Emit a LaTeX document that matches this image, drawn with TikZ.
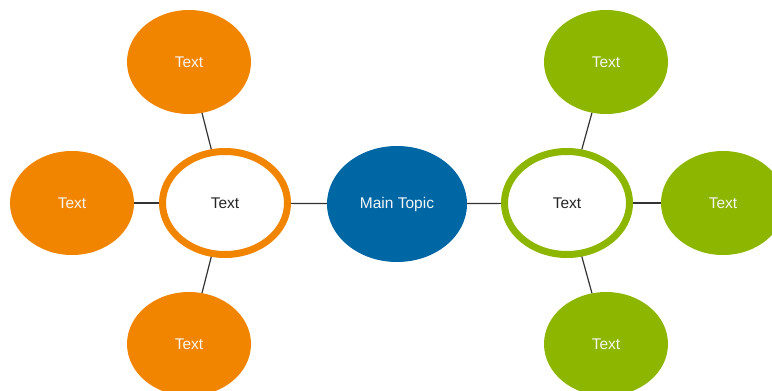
\documentclass[tikz,border=0pt]{standalone}
\usepackage{fontspec}
\setmainfont{Liberation Sans}
\usetikzlibrary{shapes.geometric}

\definecolor{orng}{HTML}{F28500}
\definecolor{grn}{HTML}{8DB600}
\definecolor{blu}{HTML}{0067A5}

\tikzset{
  bubble/.style = {ellipse, minimum width=124, minimum height=104, inner sep=0pt, text=white!92!gray, font=\fontsize{15.5}{18}\selectfont},
  hub/.style = {ellipse, draw=#1, line width=7, fill=white, minimum width=125, minimum height=103, inner sep=0pt, text=black!85, font=\fontsize{15.5}{18}\selectfont},
  link/.style = {draw=black!80, line width=1.2}
}

\begin{document}
\begin{tikzpicture}[x=1pt,y=-1pt]
\useasboundingbox (0,0) rectangle (772,391);
\node[bubble, fill=blu, minimum width=140, minimum height=116] (main) at (397,204) {Main Topic};
\node[hub=orng] (lhub) at (225,203) {Text};
\node[hub=grn] (rhub) at (567,203) {Text};
\node[bubble, fill=orng] (l1) at (189,62) {Text};
\node[bubble, fill=orng] (l2) at (72,203) {Text};
\node[bubble, fill=orng] (l3) at (189,344) {Text};
\node[bubble, fill=grn] (r1) at (606,62) {Text};
\node[bubble, fill=grn] (r2) at (723,203) {Text};
\node[bubble, fill=grn] (r3) at (606,344) {Text};
\draw[link] (lhub) -- (main);
\draw[link] (main) -- (rhub);
\foreach \n in {l1,l2,l3} \draw[link] (\n) -- (lhub);
\foreach \n in {r1,r2,r3} \draw[link] (\n) -- (rhub);
\end{tikzpicture}
\end{document}
